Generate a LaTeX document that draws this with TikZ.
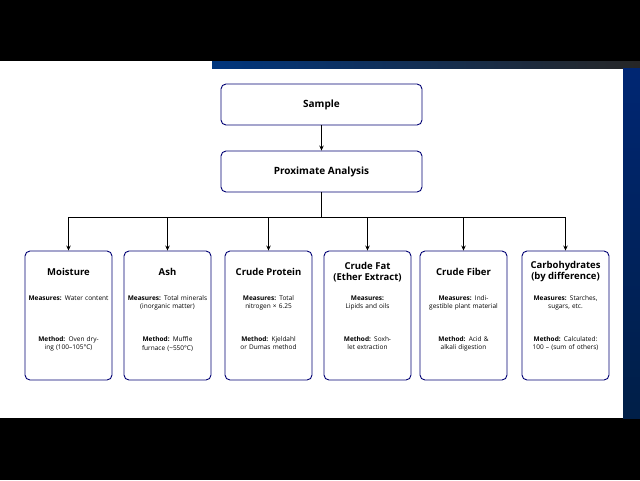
\documentclass[tikz,border=0pt]{standalone}
\usepackage{fontspec}
\setmainfont{Open Sans}
\usetikzlibrary{arrows.meta}
\begin{document}
\begin{tikzpicture}[x=1pt,y=-1pt,
 box/.style={draw=blue!45!black,line width=0.9pt,rounded corners=5pt,fill=white},
 arr/.style={-{Stealth[length=5pt,width=4.5pt]},line width=0.9pt},
 ttl/.style={font=\bfseries\fontsize{9.5}{11}\selectfont,align=center},
 txt/.style={font=\fontsize{6.5}{8.5}\selectfont,align=center,text width=80pt}]
\useasboundingbox (0,0) rectangle (640,480);
\fill[black] (0,0) rectangle (640,480);
\fill[white] (0,61) rectangle (623,418);
\shade[left color=teal!60!blue!70!black,right color=black!85] (212,61) rectangle (640,68);
\shade[top color=teal!50!blue!60!black,bottom color=teal!60!blue!40!black] (623,68) rectangle (640,418);
\node[box,minimum width=201pt,minimum height=41pt] (s) at (321.5,104.5) {};
\node[ttl,font=\bfseries\fontsize{10}{12}\selectfont] at (s) {Sample};
\node[box,minimum width=201pt,minimum height=41pt] (p) at (321.5,171.5) {};
\node[ttl,font=\bfseries\fontsize{10}{12}\selectfont] at (p) {Proximate Analysis};
\draw[arr] (s) -- (p);
\coordinate (bus) at (321.5,217);
\draw[line width=0.9pt] (p.south) -- (bus);
\draw[line width=0.9pt] (68.5,217) -- (565.5,217);
\foreach \n/\x/\w/\t/\ty/\m/\mt in {
 m/68.5/87/Moisture/272/{\textbf{Measures:} Water content}/{\textbf{Method:} Oven drying (100–105°C)},
 a/167.5/87/Ash/272/{\textbf{Measures:} Total minerals (inorganic matter)}/{\textbf{Method:} Muffle furnace (\textasciitilde550°C)},
 c/268.5/87/Crude Protein/272/{\textbf{Measures:} Total nitrogen × 6.25}/{\textbf{Method:} Kjeldahl or Dumas method},
 f/367.5/87/{Crude Fat\\(Ether Extract)}/272/{\textbf{Measures:} Lipids and oils}/{\textbf{Method:} Soxhlet extraction},
 b/463.5/87/Crude Fiber/272/{\textbf{Measures:} Indigestible plant material}/{\textbf{Method:} Acid \& alkali digestion},
 h/565.5/87/{Carbohydrates\\(by difference)}/272/{\textbf{Measures:} Starches, sugars, etc.}/{\textbf{Method:} Calculated: 100 – (sum of others)}}{
 \node[box,minimum width=\w pt,minimum height=129pt] (\n) at (\x,315.5) {};
 \draw[arr] (\x,217) -- (\n.north);
 \node[ttl] at (\x,\ty) {\t};
 \node[txt,anchor=north] at (\x,292) {\m};
 \node[txt,anchor=north] at (\x,333) {\mt};
}
\end{tikzpicture}
\end{document}
